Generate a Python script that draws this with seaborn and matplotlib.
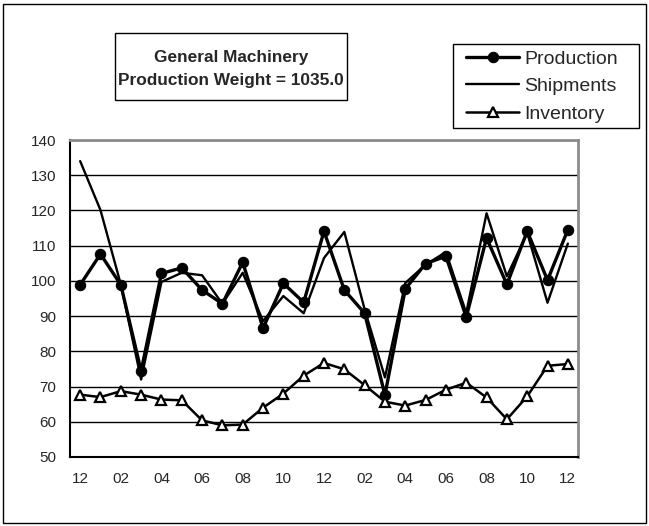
import pandas as pd
import matplotlib.pyplot as plt
import seaborn as sns
from matplotlib.patches import Rectangle

# -----------------------------
# Data
# -----------------------------
months = ["12", "01", "02", "03", "04", "05", "06", "07", "08", "09", "10", "11",
          "12", "01", "02", "03", "04", "05", "06", "07", "08", "09", "10", "11", "12"]

production = [98.9, 107.6, 98.9, 74.4, 102.1, 103.7, 97.4, 93.5, 105.3, 86.6,
              99.3, 93.9, 114.1, 97.4, 90.8, 67.6, 97.7, 104.9, 107.0, 89.7,
              112.2, 99.0, 114.1, 100.2, 114.5]
shipments = [134.0, 120.1, 99.0, 72.0, 99.7, 102.3, 101.6, 93.5, 102.3, 88.6,
             95.7, 90.8, 106.5, 113.9, 91.9, 72.6, 99.4, 104.6, 108.2, 90.9,
             119.2, 101.3, 113.6, 93.8, 110.6]
inventory = [67.7, 67.0, 68.7, 67.7, 66.3, 66.1, 60.4, 59.0, 59.2, 64.0,
             68.0, 73.1, 76.7, 74.9, 70.4, 65.7, 64.6, 66.2, 69.1, 71.1,
             66.9, 60.7, 67.2, 75.9, 76.4]

title_lines = ["General Machinery", "Production Weight = 1035.0"]

df = pd.DataFrame({
    "pos": range(len(months)),
    "Production": production,
    "Shipments": shipments,
    "Inventory": inventory,
})

sns.set_style("white")
plt.rcParams['font.family'] = ['Liberation Sans', 'DejaVu Sans']

fig = plt.figure(figsize=(6.49, 5.26), dpi=100)
W, H = 649, 526
ax = fig.add_axes([70 / W, 1 - 457 / H, (578 - 70) / W, (457 - 140) / H])

# -----------------------------
# Lines
# -----------------------------
sns.lineplot(data=df, x="pos", y="Production", ax=ax, color="black",
             linewidth=2.4, marker="o", markersize=8.8,
             markerfacecolor="black", markeredgecolor="black",
             label="Production", zorder=4)
sns.lineplot(data=df, x="pos", y="Shipments", ax=ax, color="black",
             linewidth=1.7, label="Shipments", zorder=5)
sns.lineplot(data=df, x="pos", y="Inventory", ax=ax, color="black",
             linewidth=1.8, marker="^", markersize=7.5,
             markerfacecolor="white", markeredgecolor="black",
             markeredgewidth=1.6, label="Inventory", zorder=4)

# -----------------------------
# Axes styling
# -----------------------------
ax.set_xlim(-0.5, len(months) - 0.5)
ax.set_ylim(50, 140)
ax.set_yticks(range(50, 141, 10))
ax.set_xticks(range(0, len(months), 2))
ax.set_xticklabels(months[::2])
ax.set_xticks([x + 0.5 for x in range(1, len(months) - 1, 2)], minor=True)
ax.tick_params(axis="x", which="major", length=0, labelsize=11, pad=11)
ax.tick_params(axis="x", which="minor", length=4, width=1, direction="in",
               color="black")
ax.tick_params(axis="y", length=0, labelsize=11, pad=10)
ax.set_xlabel("")
ax.set_ylabel("")
ax.grid(axis="y", color="black", linewidth=1)
ax.set_axisbelow(True)

for side in ["left", "bottom"]:
    ax.spines[side].set_color("black")
    ax.spines[side].set_linewidth(1.5)
for side in ["top", "right"]:
    ax.spines[side].set_visible(True)
    ax.spines[side].set_color("#8c8c8c")
    ax.spines[side].set_linewidth(2)

# -----------------------------
# Legend (frame drawn separately)
# -----------------------------
ax.get_legend().remove()
handles, labels = ax.get_legend_handles_labels()
for h in handles:
    if h.get_marker() == "o":
        h.set_markersize(7.5)
fig.legend(handles, labels, loc="center left",
           bbox_to_anchor=(466 / W, 1 - 86.5 / H),
           frameon=False, fontsize=14,
           handlelength=2.75, handletextpad=0.25, labelspacing=0.52,
           borderpad=0, borderaxespad=0)
fig.patches.append(Rectangle((453 / W, 1 - 128 / H), (639 - 453) / W,
                             (128 - 44) / H, transform=fig.transFigure,
                             fill=False, edgecolor="black", linewidth=1))

# -----------------------------
# Title box
# -----------------------------
fig.patches.append(Rectangle((115 / W, 1 - 100 / H), (347 - 115) / W,
                             (100 - 33) / H, transform=fig.transFigure,
                             fill=False, edgecolor="black", linewidth=1))
fig.text(231 / W, 1 - 69 / H, "\n".join(title_lines), ha="center",
         va="center", fontsize=12.4, fontweight="bold", linespacing=1.7)

# outer frame
fig.patches.append(Rectangle((3 / W, 3 / H), (646 - 3) / W, (522 - 3) / H,
                             transform=fig.transFigure, fill=False,
                             edgecolor="black", linewidth=1))

fig.savefig("out.png", dpi=100)
